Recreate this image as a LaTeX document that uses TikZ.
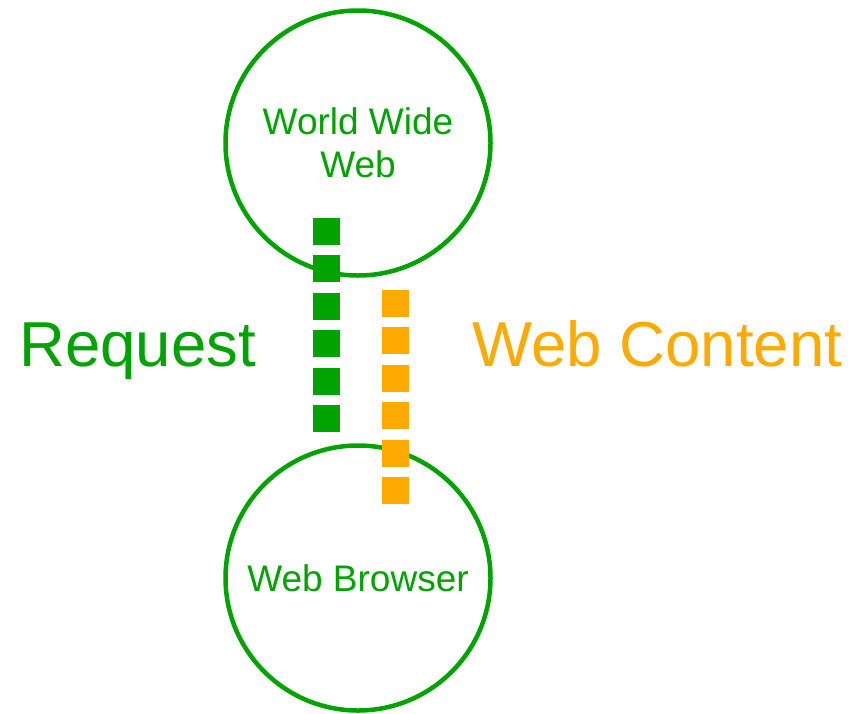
\documentclass[tikz,border=0pt]{standalone}
\usepackage{fontspec}
\setmainfont{Liberation Sans}
\usepackage{tikz}
\usetikzlibrary{positioning,calc}
\definecolor{webgreen}{RGB}{0,163,0}
\definecolor{weborange}{RGB}{255,170,0}
\tikzset{
    web circle/.style={
        circle,
        minimum size=265pt,
        draw=webgreen,
        line width=4.5pt,
        fill=none,
        inner sep=0pt,
        align=center,
        text=webgreen,
        font=\fontsize{37}{43}\selectfont,
    },
    web label/.style={font=\fontsize{63.5}{70}\selectfont, anchor=base, inner sep=0pt},
    web flow/.style={line width=27pt, dash pattern=on 27pt off 10.4pt},
}
\begin{document}
\begin{tikzpicture}[x=1pt,y=-1pt]
    \useasboundingbox (0,0) rectangle (851,713);

    %the two ends of the exchange
    \node[web circle] (www) at (358,143) {World Wide\\Web};
    \node[web circle] (browser) at (358,578) {Web Browser};

    %points where the dashed flows start and stop
    \coordinate (req-start) at (326.5,218);
    \coordinate (req-end) at (326.5,432);
    \coordinate (content-start) at (395.5,290);
    \coordinate (content-end) at (395.5,504);

    \draw[web flow, webgreen] (req-start) -- (req-end);
    \draw[web flow, weborange] (content-start) -- (content-end);

    \node[web label, text=webgreen] (request-label) at (137.5,366) {Request};
    \node[web label, text=weborange] (content-label) at (657.5,366) {Web Content};
\end{tikzpicture}
\end{document}
